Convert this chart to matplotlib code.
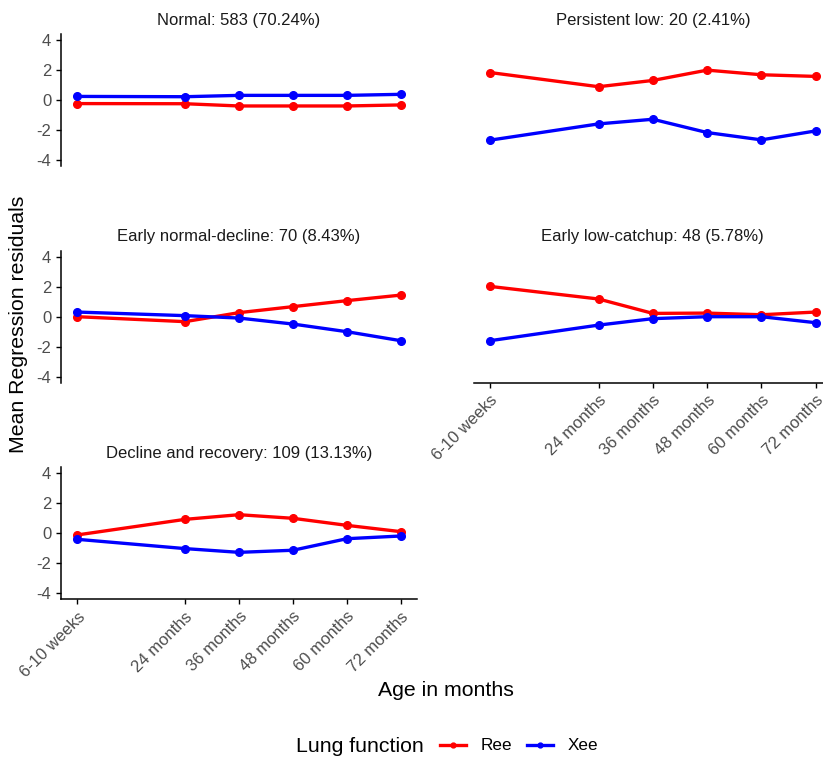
import matplotlib
matplotlib.use("Agg")
import matplotlib.pyplot as plt
from matplotlib.lines import Line2D

plt.rcParams['font.family'] = ['Liberation Sans', 'DejaVu Sans']
plt.rcParams['axes.unicode_minus'] = False

# ── data ─────────────────────────────────────────────────────────
ages = [0, 24, 36, 48, 60, 72]
age_labels = ["6-10 weeks", "24 months", "36 months", "48 months", "60 months", "72 months"]

titles = [
    "Normal: 583 (70.24%)",
    "Persistent low: 20 (2.41%)",
    "Early normal-decline: 70 (8.43%)",
    "Early low-catchup: 48 (5.78%)",
    "Decline and recovery: 109 (13.13%)",
]

ree_normal = [-0.24, -0.25, -0.40, -0.40, -0.40, -0.33]
xee_normal = [0.24, 0.22, 0.31, 0.31, 0.31, 0.38]

ree_persistent = [1.84, 0.89, 1.31, 2.00, 1.69, 1.58]
xee_persistent = [-2.69, -1.60, -1.29, -2.18, -2.67, -2.07]

ree_early_decline = [0.00, -0.33, 0.27, 0.67, 1.07, 1.44]
xee_early_decline = [0.31, 0.07, -0.09, -0.49, -1.00, -1.60]

ree_catchup = [2.02, 1.18, 0.22, 0.24, 0.13, 0.31]
xee_catchup = [-1.60, -0.56, -0.13, 0.00, 0.00, -0.40]

ree_recovery = [-0.11, 0.93, 1.24, 1.00, 0.53, 0.11]
xee_recovery = [-0.40, -1.02, -1.27, -1.13, -0.36, -0.18]

ree_all = [ree_normal, ree_persistent, ree_early_decline, ree_catchup, ree_recovery]
xee_all = [xee_normal, xee_persistent, xee_early_decline, xee_catchup, xee_recovery]

RED, BLUE = "#FF0000", "#0000FF"
GREY = "#4D4D4D"

# ── layout (pixel boxes -> figure fractions) ─────────────────────
W, H = 823, 758
fig = plt.figure(figsize=(W / 100, H / 100), dpi=100)

cols = [(61, 417), (473.7, 832)]
rows = [(34.3, 165.7), (250.7, 382.7), (467.3, 599.3)]


def box(l, t, r, b):
    return [l / W, 1 - b / H, (r - l) / W, (b - t) / H]


for i, title in enumerate(titles):
    r, c = divmod(i, 2)
    (l, rr), (t, b) = cols[c], rows[r]
    ax = fig.add_axes(box(l, t, rr, b))

    ax.plot(ages, ree_all[i], color=RED, lw=2.4, marker="o", ms=5.5)
    ax.plot(ages, xee_all[i], color=BLUE, lw=2.4, marker="o", ms=5.5)

    ax.set_xlim(-3.6, 75.6)
    ax.set_ylim(-4.4, 4.4)
    ax.set_title(title, fontsize=12, color="#1A1A1A", pad=7)

    for s in ["top", "right"]:
        ax.spines[s].set_visible(False)
    for s in ["left", "bottom"]:
        ax.spines[s].set_linewidth(1.1)
        ax.spines[s].set_color("black")

    ax.tick_params(colors="black", labelcolor=GREY, labelsize=12, length=3.5, width=1)
    ax.set_yticks([-4, -2, 0, 2, 4])
    ax.set_xticks(ages)

    show_x = (i == 3 or i == 4)
    show_y = (c == 0)
    if show_x:
        ax.set_xticklabels(age_labels, rotation=45, ha="right", va="top",
                           rotation_mode="anchor")
    else:
        ax.spines["bottom"].set_visible(False)
        ax.tick_params(axis="x", bottom=False, labelbottom=False)
    if not show_y:
        ax.spines["left"].set_visible(False)
        ax.tick_params(axis="y", left=False, labelleft=False)

# axis titles
fig.text(19 / W, 1 - 324 / H, "Mean Regression residuals", rotation=90,
         ha="center", va="center", fontsize=15.3)
fig.text(446 / W, 1 - 690 / H, "Age in months", ha="center", va="center", fontsize=15.3)

# legend
fig.text(296 / W, 1 - 746 / H, "Lung function", ha="left", va="center", fontsize=15.3)
handles = [
    Line2D([], [], color=RED, lw=2.4, marker="o", ms=3.5),
    Line2D([], [], color=BLUE, lw=2.4, marker="o", ms=3.5),
]
fig.legend(handles, ["Ree", "Xee"], ncol=2, frameon=False, fontsize=12.3,
           loc="center left", bbox_to_anchor=(440 / W, 1 - 746 / H),
           handlelength=1.5, handletextpad=0.85, columnspacing=0.9,
           borderaxespad=0, borderpad=0)

fig.savefig("out.png", dpi=100)
